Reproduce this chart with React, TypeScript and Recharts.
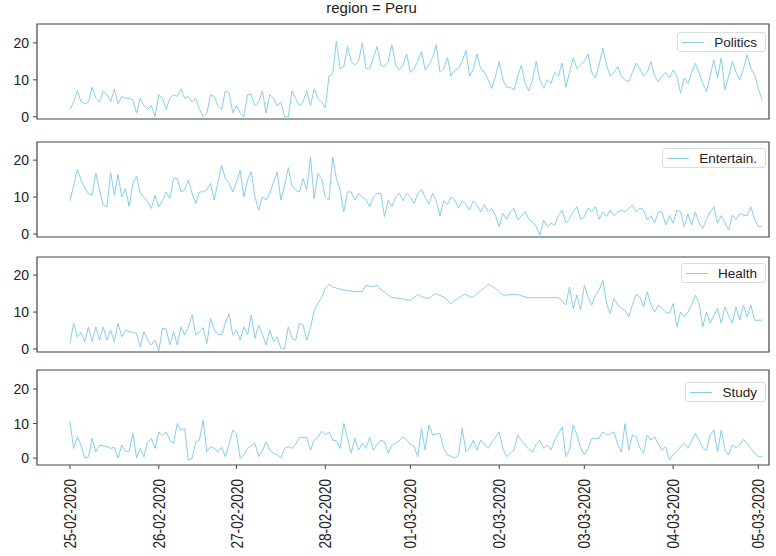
import { LineChart, Line, XAxis, YAxis, ReferenceArea } from "recharts";

const title = "region = Peru";
const dateLabels = [
  "25-02-2020", "26-02-2020", "27-02-2020", "28-02-2020", "01-03-2020",
  "02-03-2020", "03-03-2020", "04-03-2020", "05-03-2020",
];
// hour index where each date starts
const dayStartHour = [0, 24, 45, 69, 92, 116, 139, 163, 186];
const yTicks = [0, 10, 20];
const seriesNames = ["Politics", "Entertain.", "Health", "Study"];

const politics = [
  2, 4, 7, 4, 3.5, 4, 8, 5, 4, 7,
  6, 4, 7.5, 3.5, 5.5, 5, 5, 4.5, 1, 5,
  3, 2, 3, 0, 6, 5, 2, 5, 6, 5.5,
  7.5, 5, 5.5, 4, 5, 2, 0, 1, 6, 5.5,
  3, 2, 7, 6.5, 1, 3, 1, 0, 6, 6,
  3, 4, 7, 1, 6, 5, 3, 4, 0, 0,
  7, 5, 3, 4, 7, 3, 7.5, 5, 4, 2.5,
  11, 11.5, 20.5, 13, 13.5, 19, 15, 14, 15, 20,
  13, 13, 16, 19, 14, 13.5, 15, 19.5, 14, 12.7,
  14, 17, 12, 13, 15, 17.6, 12.7, 14, 16, 19.5,
  12, 13, 16, 11, 12.7, 13, 15, 18, 11, 13,
  17, 13, 12, 10, 7.7, 11, 15, 10, 8, 8,
  7.3, 11, 14, 9, 7, 10, 15, 10, 7.7, 10,
  9, 12, 11, 14.5, 8, 12, 16, 13, 14, 15,
  17, 12, 10.5, 14, 18.6, 14, 11, 12, 13.6, 11,
  10, 9.5, 12, 14.5, 13, 11, 12, 15, 11, 9.5,
  11, 12, 10.5, 12.7, 11, 6.4, 10.5, 9, 12, 14.5,
  12, 9, 6.8, 11, 15.4, 10.5, 16, 7.3, 11, 15,
  12, 10, 13, 16.8, 13, 11.4, 7.7, 4.6,
];

const entertain = [
  9, 13, 17.5, 14.6, 12.5, 11, 10.5, 16.4, 11.9, 7.8,
  7.4, 16.6, 10.5, 16.1, 10, 12.3, 7.4, 13.7, 15.7, 11,
  10, 8.7, 6.9, 10.5, 7.4, 9, 11.4, 9.6, 15, 15,
  11.4, 11.9, 14.6, 11, 8.3, 11.4, 11.4, 12, 13.7, 9.2,
  14, 18.6, 15, 13.7, 11.4, 14, 17.3, 10, 14.6, 16.8,
  10, 6.5, 10, 9.2, 11, 14, 16.8, 9.2, 13, 18,
  13, 11.9, 11.4, 15, 11.9, 20.9, 9.6, 16.4, 15, 10,
  9.2, 20.9, 15, 11.9, 6, 11.4, 11.4, 9.2, 11, 10,
  9.2, 7.4, 10, 11, 11, 4.7, 9.2, 7.4, 10, 11,
  9, 11, 10, 8.3, 11, 12, 10, 8, 11, 9,
  5, 9, 8, 10, 9.2, 7, 9, 8, 6.5, 9,
  7.8, 6, 8, 6, 6.9, 5, 2, 5.6, 4, 6,
  6.9, 3.8, 5, 6, 4, 3.3, 2, -0.3, 3.8, 2,
  3, 2.4, 5, 6.5, 3, 4.2, 6, 7.4, 4, 4.7,
  7, 6, 7.4, 4, 6, 4.7, 6.5, 5, 6, 6.5,
  6, 7, 7.8, 6, 7, 6.5, 3.8, 5, 3, 6,
  6, 2.5, 5, 2.9, 6.5, 6, 2, 5.5, 2.4, 6,
  3, 1.5, 4, 6, 7.4, 2.9, 5, 3, 1.1, 5.1,
  4, 5.5, 5.1, 5, 7.4, 4, 2, 2,
];

const health = [
  1.5, 7, 3.3, 4.5, 2, 6, 2, 6, 2.4, 6,
  2.4, 5.1, 2, 7, 3.3, 5.1, 4.7, 4.5, 4.2, 0.6,
  4.7, 2.4, 1.1, 2.4, -0.5, 5.6, 5.4, 1.1, 4.7, 1.1,
  6, 3.8, 6, 9.2, 3.8, 4.7, 5.8, 1.5, 8.3, 5.1,
  4, 3.8, 7, 9.6, 3.8, 5.1, 2.4, 6, 3.8, 9.2,
  2.9, 6.5, 4, 1.1, 5.1, 2, 3.3, 0.2, 0, 6,
  2.9, 2.4, 7, 6.5, 2.4, 5.6, 10.5, 12.3, 14, 16.4,
  17.5, 16.8, 16.5, 16.2, 16, 15.8, 15.7, 15.5, 15.5, 15.5,
  17.3, 17, 16.8, 17.3, 16, 15.5, 14.6, 13.9, 13.8, 13.7,
  13.5, 13.3, 13.2, 14, 14.8, 14.2, 13.8, 13.7, 14.5, 15,
  14.5, 14.1, 13.2, 12.3, 13.2, 13.7, 14.5, 14.8, 14.1, 14.1,
  15, 15.8, 16.6, 17.5, 17, 16.4, 15.5, 14.6, 14.6, 14.7,
  14.8, 14.8, 14.4, 14.1, 13.9, 13.9, 13.9, 13.9, 13.9, 13.9,
  13.9, 13.9, 13.9, 13, 11.9, 16.8, 11, 14.6, 10.5, 17.3,
  14, 11.9, 14.6, 16, 18.6, 12.3, 9.6, 13.7, 11.9, 11,
  10.5, 8.7, 12, 14.8, 14.1, 11.4, 15.5, 12, 10, 11.9,
  11, 10, 9.6, 12.3, 6, 10, 8.7, 10, 12, 14.6,
  12.3, 6, 10, 7, 9, 11, 7, 11.4, 9, 7,
  11.4, 7.8, 11.9, 8.7, 11.9, 7.8, 7.8, 7.8,
];

const study = [
  10.5, 2.8, 6.2, 3.8, 0, 0.4, 5.7, 1.8, 3.8, 3.5,
  3.3, 2.8, 3.1, 0, 3.8, 2, 1.8, 7.3, 0, 2.8,
  0.4, 4.7, 5.7, 2.8, 7.6, 6.4, 7.6, 5.2, 4.3, 10,
  8.1, 8.6, -0.6, 0, 4.7, 5.2, 11, 1.8, 3.3, 2.8,
  1.8, 3.1, 0.4, 4, 8.1, 7.1, 0, 0.9, 2.8, 3.5,
  4.3, 0.4, 2, 4.7, 2.3, 1.4, 0.9, 0, 2.8, 3.3,
  2.8, 4, 6, 6, 6, 2.3, 5.2, 6, 7.8, 6.7,
  7.6, 5.2, 5, 2.8, 10, 5.7, 1.4, 5.7, 2.3, 4.3,
  2.8, 6, 2.3, 4, 5.2, 4.7, 1.4, 3.8, 4.3, 5,
  6.2, 5.2, 4, 3.3, 0.4, 8.6, 2.3, 9.6, 6.7, 7,
  7.1, 2.8, 0.9, 0.5, 0, 0.9, 8.6, 1.8, 3, 5.2,
  2.3, 5.2, 4, 2.8, 4.7, 6, 7.6, 2.8, 0.4, 1.5,
  2.3, 6.7, 5, 3.8, 2.5, 1.8, 4, 5.2, 2.8, 3.8,
  2.3, 5.2, 7, 9.1, 0.4, 2.3, 9.6, 6.7, 3, 0.9,
  2.8, 5.7, 5.7, 5.7, 7.6, 6.7, 7, 7.6, 4, 1.8,
  10, 2.3, 6.7, 6.2, 3, 1.4, 6.7, 5.2, 6.2, 4,
  2.3, 3.3, -0.6, 1, 1.8, 3.3, 4.3, 2.8, 5, 7.1,
  5.2, 3, 2.3, 6.7, 8.1, 1.8, 8.1, 2.3, 0.9, 3.8,
  3, 3.8, 5.4, 4.3, 2.8, 1.5, 0.4, 0.4,
];

const rows = politics.map((v, i) => ({
  hour: i,
  politics: v,
  entertain: entertain[i],
  health: health[i],
  study: study[i],
}));

const LINE = "#87CEEB";
const FRAME = "#3d474c";
const INK = "#222";
const FONT = '"Liberation Sans", Arial, sans-serif';
const X_DOMAIN: [number, number] = [-8.9, 188.9];

const panels = [
  { key: "politics", name: seriesNames[0], top: 24, yDomain: [-0.6, 25.1], legendTop: 32 },
  { key: "entertain", name: seriesNames[1], top: 142, yDomain: [-0.8, 24.9], legendTop: 148 },
  { key: "health", name: seriesNames[2], top: 257, yDomain: [-0.8, 24.9], legendTop: 263 },
  { key: "study", name: seriesNames[3], top: 370, yDomain: [-2, 25.5], legendTop: 382 },
];

function DateTick(props: any) {
  const { x, y, payload } = props;
  const label = dateLabels[dayStartHour.indexOf(payload.value)];
  return (
    <text
      transform={`translate(${x},${y + 8}) rotate(-90) scale(0.8,1)`}
      textAnchor="end"
      dominantBaseline="central"
      fontSize={17}
      fill={INK}
    >
      {label}
    </text>
  );
}

function LegendBox({ name, top }: { name: string; top: number }) {
  return (
    <div
      style={{
        position: "absolute",
        right: 10,
        top,
        height: 20,
        boxSizing: "border-box",
        display: "flex",
        alignItems: "center",
        padding: "0 8px 0 4px",
        border: "1px solid #dcdcdc",
        borderRadius: 3,
        background: "rgba(255,255,255,0.85)",
        fontSize: 13.5,
        color: INK,
      }}
    >
      <span style={{ width: 22, height: 0, borderTop: `1px solid ${LINE}`, marginRight: 10 }} />
      <span>{name}</span>
    </div>
  );
}

export default function App() {
  return (
    <div
      style={{
        position: "absolute",
        left: 0,
        top: 0,
        width: 776,
        height: 556,
        background: "#fff",
        fontFamily: FONT,
        overflow: "hidden",
      }}
    >
      <div
        style={{
          position: "absolute",
          left: 0,
          top: 0,
          width: 743,
          textAlign: "center",
          fontSize: 15,
          lineHeight: "15px",
          color: INK,
        }}
      >
        {title}
      </div>

      {panels.map((p, idx) => {
        const last = idx === panels.length - 1;
        return (
          <div key={p.key} style={{ position: "absolute", left: 0, top: p.top - 2 }}>
            <LineChart
              width={776}
              height={last ? 187 : 103}
              data={rows}
              margin={{ top: 2, right: 7, bottom: 0, left: 0 }}
            >
              <XAxis
                dataKey="hour"
                type="number"
                domain={X_DOMAIN}
                ticks={dayStartHour}
                allowDataOverflow
                axisLine={false}
                stroke={FRAME}
                tickSize={4}
                tickMargin={2}
                height={last ? 90 : 6}
                tick={last ? (t: any) => <DateTick {...t} /> : false}
              />
              <YAxis
                type="number"
                domain={p.yDomain}
                ticks={yTicks}
                allowDataOverflow
                width={37}
                axisLine={false}
                stroke={FRAME}
                tickSize={4}
                tickMargin={4}
                tick={{ fontSize: 14, fill: INK }}
              />
              <ReferenceArea
                x1={X_DOMAIN[0]}
                x2={X_DOMAIN[1]}
                y1={p.yDomain[0]}
                y2={p.yDomain[1]}
                fill="none"
                fillOpacity={0}
                stroke={FRAME}
                strokeWidth={1.2}
                ifOverflow="visible"
              />
              <Line
                type="linear"
                dataKey={p.key}
                stroke={LINE}
                strokeWidth={1}
                dot={false}
                isAnimationActive={false}
              />
            </LineChart>
            <LegendBox name={p.name} top={p.legendTop - p.top + 2} />
          </div>
        );
      })}
    </div>
  );
}
